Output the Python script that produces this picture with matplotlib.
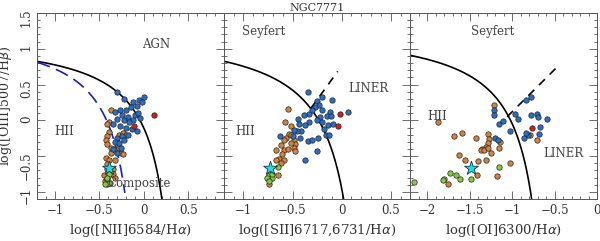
import numpy as np
import matplotlib
matplotlib.use("Agg")
import matplotlib.pyplot as plt
from matplotlib.ticker import MultipleLocator, FuncFormatter

plt.rcParams['font.family'] = ['DejaVu Serif']

# ---- data ----
# panel 1: [NII]/Ha vs [OIII]/Hb
nii_blue_x = [-0.30, -0.22, -0.12, -0.05, 0.00, -0.02, -0.08, -0.14, -0.20, -0.27, -0.32, -0.25,
              -0.18, -0.10, -0.06, -0.04, -0.12, -0.17, -0.22, -0.30, -0.35, -0.27, -0.20, -0.13,
              -0.08, -0.18, -0.25, -0.30, -0.33, -0.28, -0.22, -0.35, -0.30, -0.26]
nii_blue_y = [0.40, 0.30, 0.25, 0.28, 0.33, 0.25, 0.20, 0.18, 0.15, 0.15, 0.12, 0.08,
              0.05, 0.07, 0.10, 0.03, 0.00, -0.02, 0.00, 0.02, -0.05, -0.08, -0.10, -0.12,
              -0.15, -0.20, -0.22, -0.25, -0.30, -0.32, -0.28, -0.40, -0.45, -0.38]
nii_orange_x = [-0.37, -0.39, -0.41, -0.39, -0.41, -0.43, -0.41, -0.37, -0.33, -0.30, -0.26, -0.28,
                -0.37, -0.43, -0.39, -0.33, -0.45, -0.41, -0.28, -0.24, -0.20, -0.30, -0.24, -0.35,
                -0.42, -0.35, -0.42, -0.33, -0.44, -0.38]
nii_orange_y = [0.15, -0.02, -0.05, -0.16, -0.22, -0.28, -0.33, -0.38, -0.40, -0.42, -0.45, -0.39,
                -0.45, -0.52, -0.56, -0.56, -0.77, -0.89, -0.20, -0.17, -0.20, -0.30, -0.47, -0.68,
                -0.68, -0.75, -0.61, -0.80, -0.85, -0.87]
nii_green_x = [-0.39, -0.42, -0.39, -0.44, -0.41]
nii_green_y = [-0.75, -0.82, -0.87, -0.89, -0.80]
nii_red_x = [0.11, -0.11]
nii_red_y = [0.08, -0.08]
nii_star = (-0.39, -0.66)

# panel 2: [SII]/Ha
sii_blue_x = [-0.34, -0.20, -0.10, -0.25, -0.23, -0.27, -0.30, -0.20, -0.12, -0.15, -0.11, 0.06,
              -0.22, -0.25, -0.33, -0.38, -0.44, -0.43, -0.33, -0.37, -0.41, -0.45, -0.49, -0.50,
              -0.63, -0.42, -0.34, -0.30, -0.24, -0.16, -0.13, -0.25, -0.37, -0.14, -0.18, -0.09, -0.20]
sii_blue_y = [0.39, 0.33, 0.28, 0.27, 0.21, 0.19, 0.14, 0.15, 0.12, 0.06, 0.06, 0.12,
              0.04, 0.01, 0.09, 0.07, 0.02, -0.05, -0.02, -0.07, -0.15, -0.15, -0.14, -0.22,
              -0.22, -0.25, -0.29, -0.28, -0.25, -0.20, -0.20, -0.43, -0.55, -0.07, -0.12, -0.05, -0.02]
sii_orange_x = [-0.55, -0.58, -0.52, -0.54, -0.52, -0.57, -0.59, -0.49, -0.47, -0.52, -0.62, -0.67,
                -0.59, -0.55, -0.49, -0.47, -0.61, -0.64, -0.59, -0.62, -0.67, -0.65, -0.74]
sii_orange_y = [0.155, -0.03, -0.08, -0.19, -0.21, -0.24, -0.28, -0.28, -0.33, -0.31, -0.35, -0.42,
                -0.41, -0.40, -0.38, -0.43, -0.47, -0.54, -0.56, -0.59, -0.56, -0.765, -0.89]
sii_green_x = [-0.65, -0.74, -0.71, -0.76, -0.74, -0.71]
sii_green_y = [-0.65, -0.77, -0.80, -0.81, -0.85, -0.75]
sii_red_x = [-0.02, -0.04]
sii_red_y = [0.09, -0.085]
sii_star = (-0.73, -0.66)

# panel 3: [OI]/Ha
oi_blue_x = [-0.78, -0.84, -1.21, -1.21, -1.16, -1.11, -0.965, -0.93, -0.78, -0.71, -0.70, -0.59,
             -0.67, -0.81, -0.86, -0.84, -1.03, -1.20, -1.17, -0.68]
oi_blue_y = [0.33, 0.28, 0.15, 0.07, -0.05, -0.01, 0.085, 0.02, 0.07, 0.085, 0.05, 0.02,
             -0.09, -0.20, -0.24, -0.17, -0.15, -0.25, -0.28, -0.19]
oi_orange_x = [-1.21, -1.88, -1.69, -1.59, -1.43, -1.29, -1.27, -1.29, -1.31, -1.35, -1.37, -1.33,
               -1.29, -1.14, -1.16, -1.25, -1.31, -1.40, -1.56, -1.63, -1.02, -1.18, -1.76, -1.42,
               -0.71, -0.79]
oi_orange_y = [0.22, -0.03, -0.22, -0.18, -0.25, -0.19, -0.26, -0.32, -0.37, -0.40, -0.42, -0.42,
               -0.39, -0.30, -0.39, -0.46, -0.56, -0.57, -0.55, -0.48, -0.60, -0.78, -0.89, -0.77,
               -0.28, -0.20]
oi_green_x = [-2.16, -1.80, -1.81, -1.73, -1.66, -1.61, -1.49, -1.16]
oi_green_y = [-0.855, -0.82, -0.83, -0.73, -0.77, -0.82, -0.82, -0.65]
oi_red_x = [-0.77]
oi_red_y = [-0.10]
oi_star = (-1.48, -0.66)

xlabels = ['log([NII]6584/H$\\alpha$)', 'log([SII]6717,6731/H$\\alpha$)', 'log([OI]6300/H$\\alpha$)']
xlims = [(-1.2, 0.9), (-1.2, 0.7), (-2.2, 0.0)]

c_blue = '#2a6fc6'
c_orange = '#d4843c'
c_green = '#86cc3a'
c_red = '#cc2020'
c_star = '#22dde0'
txt = '#444444'

fig, axes = plt.subplots(1, 3, figsize=(6.0, 2.41), dpi=100, sharey=True)
fig.subplots_adjust(left=0.062, right=0.995, top=0.946, bottom=0.174, wspace=0)

panels = [
    (nii_blue_x, nii_blue_y, nii_orange_x, nii_orange_y, nii_green_x, nii_green_y, nii_red_x, nii_red_y, nii_star),
    (sii_blue_x, sii_blue_y, sii_orange_x, sii_orange_y, sii_green_x, sii_green_y, sii_red_x, sii_red_y, sii_star),
    (oi_blue_x, oi_blue_y, oi_orange_x, oi_orange_y, oi_green_x, oi_green_y, oi_red_x, oi_red_y, oi_star),
]

fmt = FuncFormatter(lambda v, p: ('%g' % v).replace('-', '\u2212'))

for i, ax in enumerate(axes):
    bx, by, ox, oy, gx, gy, rx, ry, st = panels[i]
    kw = dict(s=15, edgecolors='#222222', linewidths=0.5, zorder=3)
    ax.scatter(ox, oy, c=c_orange, **kw)
    ax.scatter(gx, gy, c=c_green, **kw)
    ax.scatter(bx, by, c=c_blue, **kw)
    ax.scatter(rx, ry, c=c_red, **kw)
    ax.scatter([st[0]], [st[1]], marker='*', s=110, c=c_star, edgecolors='#1a3050', linewidths=0.6, zorder=4)

    ax.set_xlim(*xlims[i])
    ax.set_ylim(-1.1, 1.5)
    ax.xaxis.set_major_locator(MultipleLocator(0.5))
    ax.xaxis.set_minor_locator(MultipleLocator(0.1))
    ax.yaxis.set_major_locator(MultipleLocator(0.5))
    ax.yaxis.set_minor_locator(MultipleLocator(0.1))
    ax.xaxis.set_major_formatter(fmt)
    ax.yaxis.set_major_formatter(fmt)
    ax.tick_params(which='both', direction='in', top=True, right=True, colors='#555555',
                   labelcolor='#333333', labelsize=8.5, width=0.6)
    ax.tick_params(which='major', length=5.5)
    ax.tick_params(which='minor', length=2.5)
    for sp in ax.spines.values():
        sp.set_color('#555555')
        sp.set_linewidth(0.7)
    ax.set_xlabel(xlabels[i], fontsize=9.5, color='#333333', labelpad=4)

ax1, ax2, ax3 = axes
# y tick labels written vertically, as in the reference
ax1.tick_params(axis='y', labelrotation=90, pad=3)

# demarcation lines
x = np.linspace(-1.2, 0.45, 400)
y = 0.61 / (x - 0.47) + 1.19
ax1.plot(x[y > -1.2], y[y > -1.2], color='black', lw=1.2, zorder=2)
x = np.linspace(-1.2, 0.0, 400)
y = 0.61 / (x - 0.05) + 1.3
ax1.plot(x[y > -1.02], y[y > -1.02], color='#1a1acc', lw=1.2, ls=(0, (8, 4)), zorder=2)

x = np.linspace(-1.2, 0.3, 400)
y = 0.72 / (x - 0.32) + 1.30
ax2.plot(x[y > -1.2], y[y > -1.2], color='black', lw=1.2, zorder=2)
x = np.linspace(-0.315, -0.04, 50)
ax2.plot(x, 1.89 * x + 0.76, color='black', lw=1.2, ls=(0, (5, 4)), zorder=2)

x = np.linspace(-2.2, -0.5, 400)
y = 0.73 / (x + 0.47) + 1.33
ax3.plot(x[y > -1.2], y[y > -1.2], color='black', lw=1.2, zorder=2)
x = np.linspace(-1.06, -0.48, 50)
ax3.plot(x, 1.18 * x + 1.30, color='black', lw=1.2, ls=(0, (5, 4)), zorder=2)

# region labels
ax1.text(0.14, 1.06, 'AGN', fontsize=8.5, color=txt, ha='center', va='center')
ax1.text(-0.9, -0.16, 'HII', fontsize=8.5, color=txt, ha='center', va='center')
ax1.text(-0.05, -0.88, 'Composite', fontsize=8.5, color=txt, ha='center', va='center')
ax2.text(-0.79, 1.24, 'Seyfert', fontsize=8.5, color=txt, ha='center', va='center')
ax2.text(0.27, 0.45, 'LINER', fontsize=8.5, color=txt, ha='center', va='center')
ax2.text(-0.98, -0.155, 'HII', fontsize=8.5, color=txt, ha='center', va='center')
ax3.text(-1.23, 1.24, 'Seyfert', fontsize=8.5, color=txt, ha='center', va='center')
ax3.text(-1.88, 0.05, 'HII', fontsize=8.5, color=txt, ha='center', va='center')
ax3.text(-0.39, -0.47, 'LINER', fontsize=8.5, color=txt, ha='center', va='center')

ax1.set_ylabel('log([OIII]5007/H$\\beta$)', fontsize=9, color='#333333')
ax1.yaxis.set_label_coords(-0.125, 0.5)
ax2.set_title('NGC7771', fontsize=8, color='#333333', pad=1.5)

fig.savefig('out.png', dpi=100)
